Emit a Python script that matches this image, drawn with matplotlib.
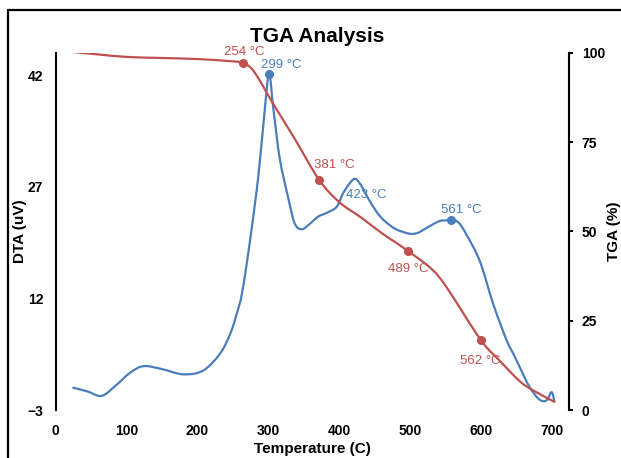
import matplotlib
matplotlib.use("Agg")
import matplotlib.pyplot as plt
import numpy as np
from matplotlib.patches import Rectangle, PathPatch
from matplotlib.path import Path

plt.rcParams['font.family'] = ['Liberation Sans', 'DejaVu Sans']

# DTA curve (left axis, uV)
dta_temp = [25, 45, 65, 85, 105, 124, 150, 180, 208, 232, 246, 255, 263, 274, 286, 295,
            301, 307, 316, 328, 337, 347, 358, 370, 382, 396, 405, 414, 422, 430, 438,
            452, 464, 480, 499, 510, 518, 527, 541, 551, 558, 568, 579, 598, 617, 636,
            645, 654, 668, 682, 692, 699, 703]
dta_val = [0.0, -0.5, -1.1, 0.3, 2.0, 2.9, 2.5, 1.8, 2.3, 4.6, 7.2, 9.8, 12.8, 19.7, 28.6, 37.5,
           42.2, 37.5, 30.8, 25.5, 22.1, 21.3, 22.0, 23.0, 23.5, 24.3, 26.1, 27.4, 28.1, 27.3, 25.9,
           23.7, 22.4, 21.3, 20.7, 20.8, 21.2, 21.7, 22.4, 22.5, 22.6, 22.2, 20.6, 17.0, 11.2, 6.3,
           4.6, 2.8, 0.1, -1.6, -1.7, -0.6, -1.8]

# TGA curve (right axis, %)
tga_temp = [23, 60, 100, 150, 200, 240, 264, 280, 306, 320, 340, 372, 400, 430, 460, 475,
            497, 530, 551, 599, 626, 654, 673, 703]
tga_val = [100.3, 99.6, 98.9, 98.6, 98.3, 97.8, 97.2, 94.7, 86.0, 81.5, 75.0, 64.3, 58.2, 54.0,
           49.5, 47.5, 44.5, 39.5, 34.4, 19.7, 13.8, 8.1, 5.5, 2.3]

# marked points and their labels
dta_mark_t = [300.7, 558]
dta_mark_v = [42.2, 22.6]
dta_mark_lbl = ['299 °C', '561 °C']
tga_mark_t = [264, 372, 497, 599]
tga_mark_v = [97.2, 64.3, 44.5, 19.7]
tga_mark_lbl = ['254 °C', '381 °C', '489 °C', '562 °C']
peak423_t, peak423_v, peak423_lbl = 421.8, 28.1, '423 °C'

blue = '#4a7ebb'
red = '#c0504d'


def smooth_line(a, xs, ys, color):
    # smoothed line like excel: bezier segments through the points
    p = np.column_stack([xs, ys]).astype(float)
    verts = [p[0]]
    codes = [Path.MOVETO]
    n = len(p)
    for i in range(n - 1):
        p0 = p[i - 1] if i > 0 else p[i]
        p3 = p[i + 2] if i + 2 < n else p[i + 1]
        c1 = p[i] + (p[i + 1] - p0) / 6
        c2 = p[i + 1] - (p3 - p[i]) / 6
        verts += [c1, c2, p[i + 1]]
        codes += [Path.CURVE4] * 3
    a.add_patch(PathPatch(Path(verts, codes), fill=False, edgecolor=color, lw=1.6,
                          zorder=3, capstyle='round', joinstyle='round'))


fig = plt.figure(figsize=(6.21, 4.58), dpi=100)
ax = fig.add_axes([0.0894, 0.1048, 0.8273, 0.7795])
ax2 = ax.twinx()

smooth_line(ax, dta_temp, dta_val, blue)
ax.plot(dta_mark_t, dta_mark_v, 'o', color=blue, ms=5.5, zorder=4)
smooth_line(ax2, tga_temp, tga_val, red)
ax2.plot(tga_mark_t, tga_mark_v, 'o', color=red, ms=5.5, zorder=4)

ax.set_xlim(0, 724)
ax.set_ylim(-3, 45)
ax.set_yticks([-3, 12, 27, 42])
ax.set_xticks(range(0, 701, 100))
ax2.set_ylim(0, 100)
ax2.set_yticks([0, 25, 50, 75, 100])

for a in (ax, ax2):
    for s in a.spines.values():
        s.set_visible(False)
ax.spines['left'].set_visible(True)
ax.spines['left'].set_linewidth(1.5)
ax2.spines['right'].set_visible(True)
ax2.spines['right'].set_linewidth(1.5)

ax.tick_params(axis='x', length=0, pad=10)
ax.tick_params(axis='y', length=0, pad=9)
ax2.tick_params(axis='y', length=3, width=1.5, pad=6)
for lab in ax.get_xticklabels() + ax.get_yticklabels() + ax2.get_yticklabels():
    lab.set_fontsize(10)
    lab.set_fontweight('bold')

ax.set_xlabel('Temperature (C)', fontsize=11, fontweight='bold')
ax.xaxis.set_label_coords(0.5, -0.09)
ax.set_ylabel('DTA (uV)', fontsize=11, fontweight='bold')
ax.yaxis.set_label_coords(-0.055, 0.5)
ax2.set_ylabel('TGA (%)', fontsize=11, fontweight='bold', rotation=90)
ax2.yaxis.set_label_coords(1.074, 0.5)

fig.text(317 / 621, 1 - 36 / 458, 'TGA Analysis', fontsize=15, fontweight='bold',
         ha='center', va='center')

# point labels
dta_offsets = [(9, 6), (7, 7)]
for t, v, lbl, off in zip(dta_mark_t, dta_mark_v, dta_mark_lbl, dta_offsets):
    ax.annotate(lbl, (t, v), xytext=off, textcoords='offset points', color=blue,
                fontsize=9.5, ha='center', va='center')
ax.annotate(peak423_lbl, (peak423_t, peak423_v), xytext=(8, -12), textcoords='offset points',
            color=blue, fontsize=9.5, ha='center', va='center')
tga_offsets = [(1, 8), (11, 11), (0, -13), (0, -15)]
for t, v, lbl, off in zip(tga_mark_t, tga_mark_v, tga_mark_lbl, tga_offsets):
    ax2.annotate(lbl, (t, v), xytext=off, textcoords='offset points', color=red,
                 fontsize=9.5, ha='center', va='center')

# outer frame
fig.patches.append(Rectangle((7.5 / 621, -0.1), 1.2, 1.1 - 10.5 / 458, transform=fig.transFigure,
                             fill=False, lw=1.6, edgecolor='black'))

fig.savefig('out.png', dpi=100)
